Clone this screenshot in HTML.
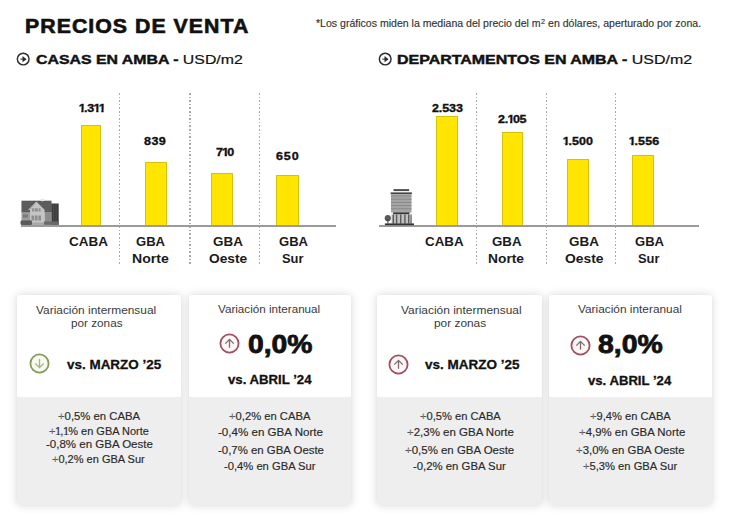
<!DOCTYPE html>
<html><head><meta charset="utf-8">
<style>
html,body{margin:0;padding:0;background:#fff;}
body{width:730px;height:525px;position:relative;overflow:hidden;font-family:"Liberation Sans",sans-serif;}
.t{position:absolute;white-space:nowrap;transform-origin:0 0;}
.bar{position:absolute;background:#ffe500;border:1px solid #d4c210;box-sizing:border-box;border-bottom:none;border-radius:1px 1px 0 0;}
.axis{position:absolute;height:2.1px;background:#9b9b9b;}
.dot{position:absolute;width:1.6px;background:repeating-linear-gradient(to bottom,#a9a9a9 0,#a9a9a9 1.6px,transparent 1.6px,transparent 3.6px);}
.card{position:absolute;top:294.5px;height:210.5px;background:#fff;border-radius:3px;box-shadow:0 0 10px rgba(0,0,0,0.16),0 0 2px rgba(0,0,0,0.04);overflow:hidden;}
.card .g{position:absolute;left:0;right:0;top:102.8px;bottom:0;background:#eeeeee;}
svg{position:absolute;overflow:visible;}
.o1b{margin:0 -0.095em 0 -0.03em;clip-path:polygon(0 0,100% 0,100% 0.80em,0.39em 0.80em,0.39em 100%,0.215em 100%,0.215em 0.80em,0 0.80em);}
.o1r{margin:0 -0.08em 0 -0.03em;clip-path:polygon(0 0,100% 0,100% 0.825em,0.355em 0.825em,0.355em 100%,0.235em 100%,0.235em 0.825em,0 0.825em);}
</style></head><body>
<!-- cards -->
<div class="card" style="left:16.8px;width:164px"><div class="g"></div></div>
<div class="card" style="left:189.3px;width:161.5px"><div class="g"></div></div>
<div class="card" style="left:377.2px;width:164.5px"><div class="g"></div></div>
<div class="card" style="left:549.3px;width:163px"><div class="g"></div></div>

<!-- dotted lines -->
<div class="dot" style="left:118.8px;top:92.5px;height:171px"></div>
<div class="dot" style="left:189.3px;top:92.5px;height:171px"></div>
<div class="dot" style="left:258.5px;top:92.5px;height:171px"></div>
<div class="dot" style="left:475.5px;top:92.5px;height:171px"></div>
<div class="dot" style="left:545.5px;top:92.5px;height:171px"></div>
<div class="dot" style="left:614.8px;top:92.5px;height:171px"></div>

<!-- bars left -->
<div class="bar" style="left:80.5px;top:125px;width:20.5px;height:100px"></div>
<div class="bar" style="left:144.5px;top:161.6px;width:22.4px;height:63.4px"></div>
<div class="bar" style="left:210.6px;top:173.4px;width:22.4px;height:51.6px"></div>
<div class="bar" style="left:276.3px;top:175.4px;width:22.3px;height:49.6px"></div>
<!-- bars right -->
<div class="bar" style="left:435.5px;top:116px;width:22.2px;height:109px"></div>
<div class="bar" style="left:501.6px;top:131.8px;width:21.3px;height:93.2px"></div>
<div class="bar" style="left:566.8px;top:158.6px;width:21.9px;height:66.4px"></div>
<div class="bar" style="left:632.3px;top:155.2px;width:21.9px;height:69.8px"></div>

<div class="axis" style="left:21px;top:224.6px;width:315px"></div>
<div class="axis" style="left:379px;top:224.6px;width:319.5px"></div>

<!-- subtitle circle icons -->
<svg style="left:16px;top:52px" width="14" height="14" viewBox="0 0 14 14"><circle cx="7.2" cy="7" r="5.85" fill="none" stroke="#2e2e2e" stroke-width="1.45"/><path d="M4.3 7.15H7.2" stroke="#666" stroke-width="1.4"/><polygon points="6.5,4.1 10.6,7.15 6.5,10.2" fill="#2a2a2a"/></svg>
<svg style="left:377.5px;top:52px" width="14" height="14" viewBox="0 0 14 14"><circle cx="7.2" cy="7" r="5.85" fill="none" stroke="#2e2e2e" stroke-width="1.45"/><path d="M4.3 7.15H7.2" stroke="#666" stroke-width="1.4"/><polygon points="6.5,4.1 10.6,7.15 6.5,10.2" fill="#2a2a2a"/></svg>

<!-- house icon -->
<svg style="left:18px;top:195px" width="44" height="33" viewBox="18 195 44 33">
  <rect x="21.5" y="200.7" width="30" height="12" fill="#585858"/>
  <g stroke="#6c6c6c" stroke-width="0.6"><line x1="21.5" y1="203" x2="51.5" y2="203"/><line x1="21.5" y1="205.5" x2="51.5" y2="205.5"/><line x1="21.5" y1="208" x2="51.5" y2="208"/><line x1="21.5" y1="210.5" x2="51.5" y2="210.5"/></g>
  <rect x="51.3" y="203.5" width="7.4" height="21.3" fill="#3c3c3c"/>
  <g stroke="#555" stroke-width="0.7"><line x1="53.5" y1="204" x2="53.5" y2="223"/><line x1="56" y1="204" x2="56" y2="223"/></g>
  <rect x="44.4" y="212" width="7" height="12.8" fill="#8c8c8c"/>
  <rect x="21.5" y="212.5" width="8.5" height="8" fill="#9c9c9c"/>
  <rect x="23" y="214.5" width="5" height="3" fill="#7a7a7a"/>
  <polygon points="36.3,201.6 44.6,209.8 44.4,225 30,225 30,209.8" fill="#c4c4c4"/>
  <polygon points="36.3,201.6 27.8,210 30.5,210" fill="#b0b0b0"/>
  <rect x="32" y="208.3" width="8.6" height="3.2" fill="#8e8e8e"/>
  <rect x="31.5" y="215.5" width="9.5" height="5" fill="#8e8e8e"/>
  <rect x="30" y="222.5" width="14.4" height="2.5" fill="#a8a8a8"/>
  <g stroke="#c4c4c4" stroke-width="0.8"><line x1="34.3" y1="208" x2="34.3" y2="212"/><line x1="38.3" y1="208" x2="38.3" y2="212"/><line x1="34.5" y1="215" x2="34.5" y2="221"/><line x1="38" y1="215" x2="38" y2="221"/></g>
  <rect x="20.5" y="220.2" width="11.5" height="4.8" rx="1.5" fill="#5a5a5a"/>
  <rect x="44" y="221.5" width="15" height="3.3" fill="#6a6a6a"/>
  <ellipse cx="42.4" cy="200" rx="2.2" ry="1.3" fill="#e6e6e6"/>
</svg>
<!-- building icon -->
<svg style="left:380px;top:185px" width="38" height="43" viewBox="380 185 38 43">
  <rect x="393.5" y="189.1" width="15.6" height="2" fill="#4e4e4e"/>
  <rect x="390.6" y="192.4" width="21.3" height="1.8" fill="#444"/>
  <rect x="391" y="194.1" width="20.5" height="18.5" fill="#a6a6a6"/>
  <g stroke="#858585" stroke-width="0.9"><line x1="391" y1="196" x2="411.5" y2="196"/><line x1="391" y1="199.2" x2="411.5" y2="199.2"/><line x1="391" y1="202.4" x2="411.5" y2="202.4"/><line x1="391" y1="205.6" x2="411.5" y2="205.6"/><line x1="391" y1="208.8" x2="411.5" y2="208.8"/></g>
  <rect x="393.1" y="212.4" width="16.4" height="2.1" fill="#363636"/>
  <rect x="391.5" y="214.5" width="20" height="9.2" fill="#c2c2c2"/>
  <g fill="#5c5c5c"><rect x="392.6" y="214.5" width="1.4" height="9"/><rect x="395.9" y="214.5" width="1.4" height="9"/><rect x="400" y="214.5" width="1.4" height="9"/><rect x="404.2" y="214.5" width="1.4" height="9"/><rect x="408" y="214.5" width="1.4" height="9"/><rect x="410.6" y="214.5" width="1" height="9"/></g>
  <circle cx="387.8" cy="218.2" r="3.1" fill="#5a5a5a"/>
  <rect x="387.4" y="219" width="1" height="4.6" fill="#444"/>
  <rect x="384.9" y="223.4" width="29.1" height="1.8" fill="#333"/>
</svg>
<!-- card circle icons -->
<svg style="left:29.3px;top:353.1px" width="21" height="21" viewBox="0 0 21 21"><circle cx="10.5" cy="10.5" r="9.1" fill="#f7fbef" stroke="#869a5e" stroke-width="1.8"/><path d="M10.5 5.9V14.6M6.4 10.5L10.5 14.6L14.6 10.5" fill="none" stroke="#a3b58a" stroke-width="1.3"/></svg>
<svg style="left:219.3px;top:333.3px" width="21" height="21" viewBox="0 0 21 21"><circle cx="10.5" cy="10.5" r="9.1" fill="#fdf7f8" stroke="#a05060" stroke-width="1.8"/><path d="M10.5 14.8V6.4M6.3 10.6L10.5 6.4L14.7 10.6" fill="none" stroke="#7e6a6e" stroke-width="1.3"/></svg>
<svg style="left:388.4px;top:353.9px" width="21" height="21" viewBox="0 0 21 21"><circle cx="10.5" cy="10.5" r="9.1" fill="#fdf7f8" stroke="#a05060" stroke-width="1.8"/><path d="M10.5 14.8V6.4M6.3 10.6L10.5 6.4L14.7 10.6" fill="none" stroke="#7e6a6e" stroke-width="1.3"/></svg>
<svg style="left:569.5px;top:334.5px" width="21" height="21" viewBox="0 0 21 21"><circle cx="10.5" cy="10.5" r="9.1" fill="#fdf7f8" stroke="#a05060" stroke-width="1.8"/><path d="M10.5 14.8V6.4M6.3 10.6L10.5 6.4L14.7 10.6" fill="none" stroke="#7e6a6e" stroke-width="1.3"/></svg>

<div class="t" style="left:25.38px;top:15.86px;font-size:20.51px;line-height:20.51px;font-weight:700;color:#111;transform:scaleX(1.0382);-webkit-text-stroke:0.65px #111;letter-spacing:1.00px;">PRECIOS DE VENTA</div>
<div class="t" style="left:36.36px;top:52.88px;font-size:13.55px;line-height:13.55px;font-weight:700;color:#111;transform:scaleX(1.1706);-webkit-text-stroke:0.45px #111;">CASAS EN AMBA <span style="font-weight:700">-</span> <span style="font-weight:400;-webkit-text-stroke-width:0.2px">USD/m2</span></div>
<div class="t" style="left:396.53px;top:52.88px;font-size:13.55px;line-height:13.55px;font-weight:700;color:#111;transform:scaleX(1.1785);-webkit-text-stroke:0.45px #111;">DEPARTAMENTOS EN AMBA <span style="font-weight:700">-</span> <span style="font-weight:400;-webkit-text-stroke-width:0.2px">USD/m2</span></div>
<div class="t" style="left:316.21px;top:19.27px;font-size:10.3px;line-height:10.3px;font-weight:400;color:#333;transform:scaleX(1.0245);-webkit-text-stroke:0.15px #333;">*Los gráficos miden la mediana del precio del m<sup style="font-size:68%;vertical-align:0;position:relative;top:-0.5em;margin-left:0.5px">2</sup> en dólares, aperturado por zona.</div>
<div class="t" style="left:78.67px;top:101.52px;font-size:11.6px;line-height:11.6px;font-weight:700;color:#111;transform:scaleX(1.0800);-webkit-text-stroke:0.35px #111;letter-spacing:-0.29px;"><span class="o1b">1</span>.3<span class="o1b">1</span><span class="o1b">1</span></div>
<div class="t" style="left:143.82px;top:135.06px;font-size:11.6px;line-height:11.6px;font-weight:700;color:#111;transform:scaleX(1.0800);-webkit-text-stroke:0.35px #111;letter-spacing:0.42px;">839</div>
<div class="t" style="left:215.93px;top:146.06px;font-size:11.6px;line-height:11.6px;font-weight:700;color:#111;transform:scaleX(1.0800);-webkit-text-stroke:0.35px #111;letter-spacing:-0.55px;">7<span class="o1b">1</span>0</div>
<div class="t" style="left:275.93px;top:150.07px;font-size:11.6px;line-height:11.6px;font-weight:700;color:#111;transform:scaleX(1.0800);-webkit-text-stroke:0.35px #111;letter-spacing:0.83px;">650</div>
<div class="t" style="left:431.83px;top:101.77px;font-size:11.6px;line-height:11.6px;font-weight:700;color:#111;transform:scaleX(1.0800);-webkit-text-stroke:0.35px #111;letter-spacing:-0.10px;">2.533</div>
<div class="t" style="left:498.47px;top:112.76px;font-size:11.6px;line-height:11.6px;font-weight:700;color:#111;transform:scaleX(1.0800);-webkit-text-stroke:0.35px #111;letter-spacing:-0.28px;">2.<span class="o1b">1</span>05</div>
<div class="t" style="left:563.44px;top:135.26px;font-size:11.6px;line-height:11.6px;font-weight:700;color:#111;transform:scaleX(1.0800);-webkit-text-stroke:0.35px #111;letter-spacing:0.06px;"><span class="o1b">1</span>.500</div>
<div class="t" style="left:628.74px;top:135.26px;font-size:11.6px;line-height:11.6px;font-weight:700;color:#111;transform:scaleX(1.0800);-webkit-text-stroke:0.35px #111;letter-spacing:0.10px;"><span class="o1b">1</span>.556</div>
<div class="t" style="left:68.59px;top:235.92px;font-size:12.8px;line-height:12.8px;font-weight:700;color:#1a1a1a;transform:scaleX(1.0531);">CABA</div>
<div class="t" style="left:135.50px;top:235.92px;font-size:12.8px;line-height:12.8px;font-weight:700;color:#1a1a1a;transform:scaleX(1.0204);">GBA</div>
<div class="t" style="left:131.99px;top:252.92px;font-size:12.8px;line-height:12.8px;font-weight:700;color:#1a1a1a;transform:scaleX(1.0983);">Norte</div>
<div class="t" style="left:213.06px;top:235.92px;font-size:12.8px;line-height:12.8px;font-weight:700;color:#1a1a1a;transform:scaleX(1.0501);">GBA</div>
<div class="t" style="left:208.72px;top:252.92px;font-size:12.8px;line-height:12.8px;font-weight:700;color:#1a1a1a;transform:scaleX(1.0727);">Oeste</div>
<div class="t" style="left:278.53px;top:235.92px;font-size:12.8px;line-height:12.8px;font-weight:700;color:#1a1a1a;transform:scaleX(1.0197);">GBA</div>
<div class="t" style="left:282.00px;top:252.92px;font-size:12.8px;line-height:12.8px;font-weight:700;color:#1a1a1a;transform:scaleX(1.0078);">Sur</div>
<div class="t" style="left:424.89px;top:235.92px;font-size:12.8px;line-height:12.8px;font-weight:700;color:#1a1a1a;transform:scaleX(1.0430);">CABA</div>
<div class="t" style="left:492.13px;top:235.92px;font-size:12.8px;line-height:12.8px;font-weight:700;color:#1a1a1a;transform:scaleX(1.0366);">GBA</div>
<div class="t" style="left:488.00px;top:252.92px;font-size:12.8px;line-height:12.8px;font-weight:700;color:#1a1a1a;transform:scaleX(1.0774);">Norte</div>
<div class="t" style="left:568.76px;top:235.92px;font-size:12.8px;line-height:12.8px;font-weight:700;color:#1a1a1a;transform:scaleX(1.0501);">GBA</div>
<div class="t" style="left:565.04px;top:252.92px;font-size:12.8px;line-height:12.8px;font-weight:700;color:#1a1a1a;transform:scaleX(1.0828);">Oeste</div>
<div class="t" style="left:635.23px;top:235.92px;font-size:12.8px;line-height:12.8px;font-weight:700;color:#1a1a1a;transform:scaleX(1.0197);">GBA</div>
<div class="t" style="left:637.70px;top:252.92px;font-size:12.8px;line-height:12.8px;font-weight:700;color:#1a1a1a;transform:scaleX(1.0078);">Sur</div>
<div class="t" style="left:36.33px;top:304.74px;font-size:10.9px;line-height:10.9px;font-weight:400;color:#3a3a3a;transform:scaleX(1.0931);">Variación intermensual</div>
<div class="t" style="left:70.84px;top:317.63px;font-size:10.9px;line-height:10.9px;font-weight:400;color:#3a3a3a;transform:scaleX(1.0775);">por zonas</div>
<div class="t" style="left:218.28px;top:304.44px;font-size:10.9px;line-height:10.9px;font-weight:400;color:#3a3a3a;transform:scaleX(1.0704);">Variación interanual</div>
<div class="t" style="left:400.83px;top:304.74px;font-size:10.9px;line-height:10.9px;font-weight:400;color:#3a3a3a;transform:scaleX(1.0963);">Variación intermensual</div>
<div class="t" style="left:434.38px;top:317.63px;font-size:10.9px;line-height:10.9px;font-weight:400;color:#3a3a3a;transform:scaleX(1.0905);">por zonas</div>
<div class="t" style="left:578.32px;top:304.44px;font-size:10.9px;line-height:10.9px;font-weight:400;color:#3a3a3a;transform:scaleX(1.0888);">Variación interanual</div>
<div class="t" style="left:66.74px;top:357.80px;font-size:13.33px;line-height:13.33px;font-weight:700;color:#111;transform:scaleX(1.0088);-webkit-text-stroke:0.3px #111;">vs. MARZO ’25</div>
<div class="t" style="left:425.17px;top:357.80px;font-size:13.33px;line-height:13.33px;font-weight:700;color:#111;transform:scaleX(1.0131);-webkit-text-stroke:0.3px #111;">vs. MARZO ’25</div>
<div class="t" style="left:248.24px;top:332.41px;font-size:25.07px;line-height:25.07px;font-weight:700;color:#111;transform:scaleX(1.1292);-webkit-text-stroke:0.8px #111;">0,0%</div>
<div class="t" style="left:598.04px;top:332.12px;font-size:25.51px;line-height:25.51px;font-weight:700;color:#111;transform:scaleX(1.1133);-webkit-text-stroke:0.8px #111;">8,0%</div>
<div class="t" style="left:227.76px;top:372.64px;font-size:13.19px;line-height:13.19px;font-weight:700;color:#111;transform:scaleX(0.9996);-webkit-text-stroke:0.3px #111;">vs. ABRIL ’24</div>
<div class="t" style="left:587.76px;top:374.91px;font-size:12.75px;line-height:12.75px;font-weight:700;color:#111;transform:scaleX(1.0301);-webkit-text-stroke:0.3px #111;">vs. ABRIL ’24</div>
<div class="t" style="left:57.67px;top:412.39px;font-size:10.4px;line-height:10.4px;font-weight:400;color:#2a2a2a;transform:scaleX(1.0882);-webkit-text-stroke:0.15px #2a2a2a;"><span style="color:#8a8a8a">+</span>0,5% en CABA</div>
<div class="t" style="left:49.04px;top:427.03px;font-size:10.4px;line-height:10.4px;font-weight:400;color:#2a2a2a;transform:scaleX(1.0559);-webkit-text-stroke:0.15px #2a2a2a;"><span style="color:#8a8a8a">+</span><span class="o1r">1</span>,<span class="o1r">1</span>% en GBA Norte</div>
<div class="t" style="left:45.92px;top:439.78px;font-size:10.4px;line-height:10.4px;font-weight:400;color:#2a2a2a;transform:scaleX(1.1082);-webkit-text-stroke:0.15px #2a2a2a;">-0,8% en GBA Oeste</div>
<div class="t" style="left:52.43px;top:455.05px;font-size:10.4px;line-height:10.4px;font-weight:400;color:#2a2a2a;transform:scaleX(1.0596);-webkit-text-stroke:0.15px #2a2a2a;"><span style="color:#8a8a8a">+</span>0,2% en GBA Sur</div>
<div class="t" style="left:228.53px;top:412.09px;font-size:10.4px;line-height:10.4px;font-weight:400;color:#2a2a2a;transform:scaleX(1.0799);-webkit-text-stroke:0.15px #2a2a2a;"><span style="color:#8a8a8a">+</span>0,2% en CABA</div>
<div class="t" style="left:218.32px;top:427.95px;font-size:10.4px;line-height:10.4px;font-weight:400;color:#2a2a2a;transform:scaleX(1.1152);-webkit-text-stroke:0.15px #2a2a2a;">-0,4% en GBA Norte</div>
<div class="t" style="left:217.98px;top:445.87px;font-size:10.4px;line-height:10.4px;font-weight:400;color:#2a2a2a;transform:scaleX(1.0985);-webkit-text-stroke:0.15px #2a2a2a;">-0,7% en GBA Oeste</div>
<div class="t" style="left:223.52px;top:461.99px;font-size:10.4px;line-height:10.4px;font-weight:400;color:#2a2a2a;transform:scaleX(1.0783);-webkit-text-stroke:0.15px #2a2a2a;">-0,4% en GBA Sur</div>
<div class="t" style="left:420.13px;top:412.09px;font-size:10.4px;line-height:10.4px;font-weight:400;color:#2a2a2a;transform:scaleX(1.0709);-webkit-text-stroke:0.15px #2a2a2a;"><span style="color:#8a8a8a">+</span>0,5% en CABA</div>
<div class="t" style="left:406.93px;top:427.91px;font-size:10.4px;line-height:10.4px;font-weight:400;color:#2a2a2a;transform:scaleX(1.1053);-webkit-text-stroke:0.15px #2a2a2a;"><span style="color:#8a8a8a">+</span>2,3% en GBA Norte</div>
<div class="t" style="left:405.31px;top:445.78px;font-size:10.4px;line-height:10.4px;font-weight:400;color:#2a2a2a;transform:scaleX(1.1026);-webkit-text-stroke:0.15px #2a2a2a;"><span style="color:#8a8a8a">+</span>0,5% en GBA Oeste</div>
<div class="t" style="left:413.19px;top:462.03px;font-size:10.4px;line-height:10.4px;font-weight:400;color:#2a2a2a;transform:scaleX(1.0923);-webkit-text-stroke:0.15px #2a2a2a;">-0,2% en GBA Sur</div>
<div class="t" style="left:590.13px;top:412.09px;font-size:10.4px;line-height:10.4px;font-weight:400;color:#2a2a2a;transform:scaleX(1.0709);-webkit-text-stroke:0.15px #2a2a2a;"><span style="color:#8a8a8a">+</span>9,4% en CABA</div>
<div class="t" style="left:579.23px;top:427.82px;font-size:10.4px;line-height:10.4px;font-weight:400;color:#2a2a2a;transform:scaleX(1.0980);-webkit-text-stroke:0.15px #2a2a2a;"><span style="color:#8a8a8a">+</span>4,9% en GBA Norte</div>
<div class="t" style="left:576.43px;top:445.52px;font-size:10.4px;line-height:10.4px;font-weight:400;color:#2a2a2a;transform:scaleX(1.0962);-webkit-text-stroke:0.15px #2a2a2a;"><span style="color:#8a8a8a">+</span>3,0% en GBA Oeste</div>
<div class="t" style="left:583.44px;top:461.77px;font-size:10.4px;line-height:10.4px;font-weight:400;color:#2a2a2a;transform:scaleX(1.0753);-webkit-text-stroke:0.15px #2a2a2a;"><span style="color:#8a8a8a">+</span>5,3% en GBA Sur</div>
</body></html>
